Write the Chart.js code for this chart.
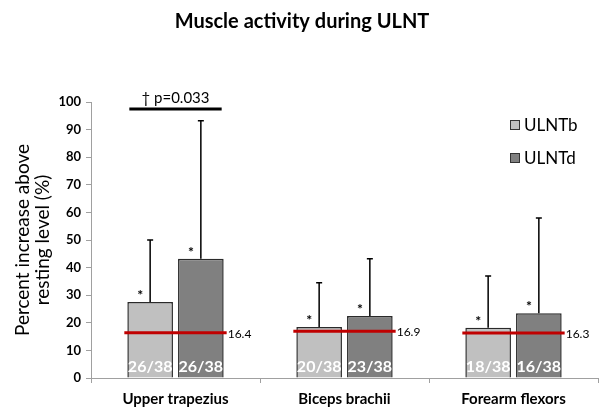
<!DOCTYPE html>
<html>
<head>
<meta charset="utf-8">
<script src="https://cdn.jsdelivr.net/npm/chart.js@4"></script>
<style>
  html, body { margin: 0; padding: 0; background: #fff; }
  #wrap { width: 600px; height: 411px; }
</style>
</head>
<body>
<div id="wrap"><canvas id="myChart" width="600" height="411"></canvas></div>
<script>
const categories = ['Upper trapezius', 'Biceps brachii', 'Forearm flexors'];
const ulntb = [27.5, 18.5, 18.2];
const ulntd = [43.2, 22.5, 23.5];
const ulntbUpper = [50, 34.5, 37];
const ulntdUpper = [93.2, 43.2, 58];
const ulntbRatio = ['26/38', '20/38', '18/38'];
const ulntdRatio = ['26/38', '23/38', '16/38'];
const restLevel = [16.4, 16.9, 16.3];
const yTicks = [0, 10, 20, 30, 40, 50, 60, 70, 80, 90, 100];

const FONT = 'Lato, "Open Sans", sans-serif';

const extras = {
    id: 'extras',
    afterDatasetsDraw(chart) {
        const ctx = chart.ctx;
        const y = chart.scales.y;
        const m0 = chart.getDatasetMeta(0);
        const m1 = chart.getDatasetMeta(1);
        ctx.save();

        // error bars, stars, ratios
        [[m0, ulntbUpper, ulntbRatio], [m1, ulntdUpper, ulntdRatio]].forEach(([meta, ups, ratios]) => {
            meta.data.forEach((bar, i) => {
                const top = bar.y;
                const yu = y.getPixelForValue(ups[i]);
                ctx.strokeStyle = '#000';
                ctx.lineWidth = 1.5;
                ctx.beginPath();
                ctx.moveTo(bar.x, top);
                ctx.lineTo(bar.x, yu);
                ctx.moveTo(bar.x - 3, yu);
                ctx.lineTo(bar.x + 3, yu);
                ctx.stroke();

                ctx.fillStyle = '#000';
                ctx.font = 'bold 14px ' + FONT;
                ctx.textAlign = 'center';
                ctx.textBaseline = 'alphabetic';
                ctx.fillText('*', bar.x - 10, top - 2);

                ctx.fillStyle = '#fff';
                ctx.font = 'bold 16px ' + FONT;
                ctx.textBaseline = 'middle';
                ctx.fillText(ratios[i], bar.x, y.getPixelForValue(0) - 11);
            });
        });

        // resting level lines
        restLevel.forEach((v, i) => {
            const b0 = m0.data[i], b1 = m1.data[i];
            const x0 = b0.x - b0.width / 2 - 3;
            const x1 = b1.x + b1.width / 2 + 3;
            const yy = y.getPixelForValue(v);
            ctx.strokeStyle = '#c00000';
            ctx.lineWidth = 3;
            ctx.beginPath();
            ctx.moveTo(x0, yy);
            ctx.lineTo(x1, yy);
            ctx.stroke();
            ctx.fillStyle = '#000';
            ctx.font = '12px ' + FONT;
            ctx.textAlign = 'left';
            ctx.textBaseline = 'middle';
            ctx.fillText(v.toFixed(1), x1 + 1, yy + 1);
        });

        // significance bracket
        const bl = m0.data[0], bd = m1.data[0];
        const bx0 = bl.x - bl.width / 2 + 2;
        const bx1 = bd.x + bd.width / 2 - 2;
        const by = y.getPixelForValue(100) + 7;
        ctx.strokeStyle = '#000';
        ctx.lineWidth = 3;
        ctx.beginPath();
        ctx.moveTo(bx0, by);
        ctx.lineTo(bx1, by);
        ctx.stroke();
        ctx.fillStyle = '#000';
        ctx.font = '15px ' + FONT;
        ctx.textAlign = 'center';
        ctx.textBaseline = 'alphabetic';
        ctx.fillText('\u2020 p=0.033', (bx0 + bx1) / 2, by - 6);

        // legend
        const items = [['ULNTb', '#c0c0c0'], ['ULNTd', '#808080']];
        items.forEach(([txt, col], k) => {
            const ly = 125 + k * 33;
            ctx.fillStyle = col;
            ctx.fillRect(510, ly - 5, 10, 10);
            ctx.strokeStyle = '#333';
            ctx.lineWidth = 1;
            ctx.strokeRect(510.5, ly - 4.5, 9, 9);
            ctx.fillStyle = '#000';
            ctx.font = '17px ' + FONT;
            ctx.textAlign = 'left';
            ctx.textBaseline = 'middle';
            ctx.fillText(txt, 524, ly + 1);
        });

        // title
        ctx.fillStyle = '#000';
        ctx.font = 'bold 20px ' + FONT;
        ctx.textAlign = 'center';
        ctx.textBaseline = 'middle';
        ctx.fillText('Muscle activity during ULNT', 302, 22);

        ctx.restore();
    }
};

const data = {
    labels: categories,
    datasets: [
        {
            label: 'ULNTb',
            data: ulntb,
            backgroundColor: '#c0c0c0',
            borderColor: '#2a2a2a',
            borderWidth: 1.5,
            borderSkipped: 'bottom',
            barPercentage: 0.9,
            categoryPercentage: 0.6
        },
        {
            label: 'ULNTd',
            data: ulntd,
            backgroundColor: '#808080',
            borderColor: '#2a2a2a',
            borderWidth: 1.5,
            borderSkipped: 'bottom',
            barPercentage: 0.9,
            categoryPercentage: 0.6
        }
    ]
};

const config = {
    type: 'bar',
    data,
    plugins: [extras],
    options: {
        responsive: false,
        animation: false,
        layout: {
            padding: { top: 102, right: 2, left: 0, bottom: 0 }
        },
        scales: {
            x: {
                grid: {
                    display: true,
                    drawOnChartArea: false,
                    offset: true,
                    color: '#a0a0a0',
                    tickLength: 5
                },
                border: { color: '#a0a0a0', width: 1 },
                ticks: {
                    color: '#000',
                    font: { family: FONT, size: 15, weight: 'bold' },
                    padding: 7
                },
                afterFit: (scale) => { scale.height = 33; }
            },
            y: {
                min: 0,
                max: 100,
                afterBuildTicks: (scale) => { scale.ticks = yTicks.map(v => ({ value: v })); },
                grid: {
                    display: true,
                    drawOnChartArea: false,
                    color: '#a0a0a0',
                    tickLength: 5
                },
                border: { color: '#a0a0a0', width: 1 },
                ticks: {
                    color: '#000',
                    font: { family: FONT, size: 13, weight: 'bold' },
                    padding: 5
                },
                title: {
                    display: true,
                    text: ['Percent increase above', 'resting level (%)'],
                    color: '#000',
                    font: { family: FONT, size: 19, lineHeight: 1.1 },
                    padding: { top: 12, bottom: 4 }
                },
                afterFit: (scale) => { scale.width = 91; }
            }
        },
        plugins: {
            legend: { display: false },
            tooltip: { enabled: false },
            title: { display: false }
        }
    }
};

const myChart = new Chart(
    document.getElementById('myChart').getContext('2d'),
    config
);
</script>
</body>
</html>
